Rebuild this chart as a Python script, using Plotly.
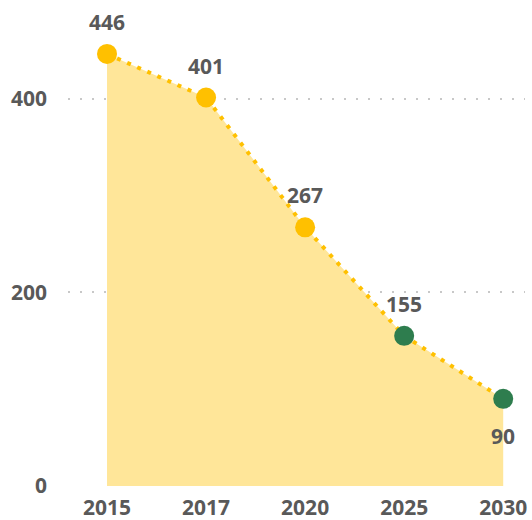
import plotly.graph_objects as go

years = ["2015", "2017", "2020", "2025", "2030"]
values = [446, 401, 267, 155, 90]
marker_colors = ["#FFC000", "#FFC000", "#FFC000", "#2E7D4E", "#2E7D4E"]
label_shift = [32, 32, 32, 32, -37]
y_ticks = [0, 200, 400]

TXT = "#595959"
FONT = "Open Sans"
FS = 21

fig = go.Figure()
fig.add_trace(go.Scatter(
    x=years, y=values, mode="lines+markers",
    line=dict(color="#FFC000", width=4, dash="4px,7px"),
    fill="tozeroy", fillcolor="#FFE699",
    marker=dict(size=20, color=marker_colors, line=dict(width=0)),
    cliponaxis=False, hoverinfo="skip",
))

for i, (v, s) in enumerate(zip(values, label_shift)):
    fig.add_annotation(x=i, y=v, xref="x", yref="y", text=str(v), showarrow=False, yshift=s,
                       font=dict(family=FONT, size=FS, color=TXT, weight="bold"))

fig.update_layout(
    width=532, height=520,
    margin=dict(l=68, r=7, t=21, b=33, autoexpand=False),
    paper_bgcolor="white", plot_bgcolor="white",
    showlegend=False,
    font=dict(family=FONT, size=FS, color=TXT),
)
fig.update_xaxes(
    type="category", range=[-0.394, 4.22], automargin=False,
    showgrid=False, zeroline=False, showline=False,
    ticks="outside", ticklen=2, tickcolor="rgba(0,0,0,0)",
    tickfont=dict(family=FONT, size=FS, color=TXT, weight="bold"),
)
fig.update_yaxes(
    range=[-1, 480], tickvals=y_ticks, automargin=False,
    showgrid=True, gridcolor="#C8C8C8", gridwidth=2, griddash="2px,10px",
    zeroline=False, showline=False,
    ticklabelstandoff=20,
    tickfont=dict(family=FONT, size=FS, color=TXT, weight="bold"),
)

fig.write_html("out.html", config={"displayModeBar": False},
               post_script="document.body.style.margin='0';document.body.style.overflow='hidden';")
